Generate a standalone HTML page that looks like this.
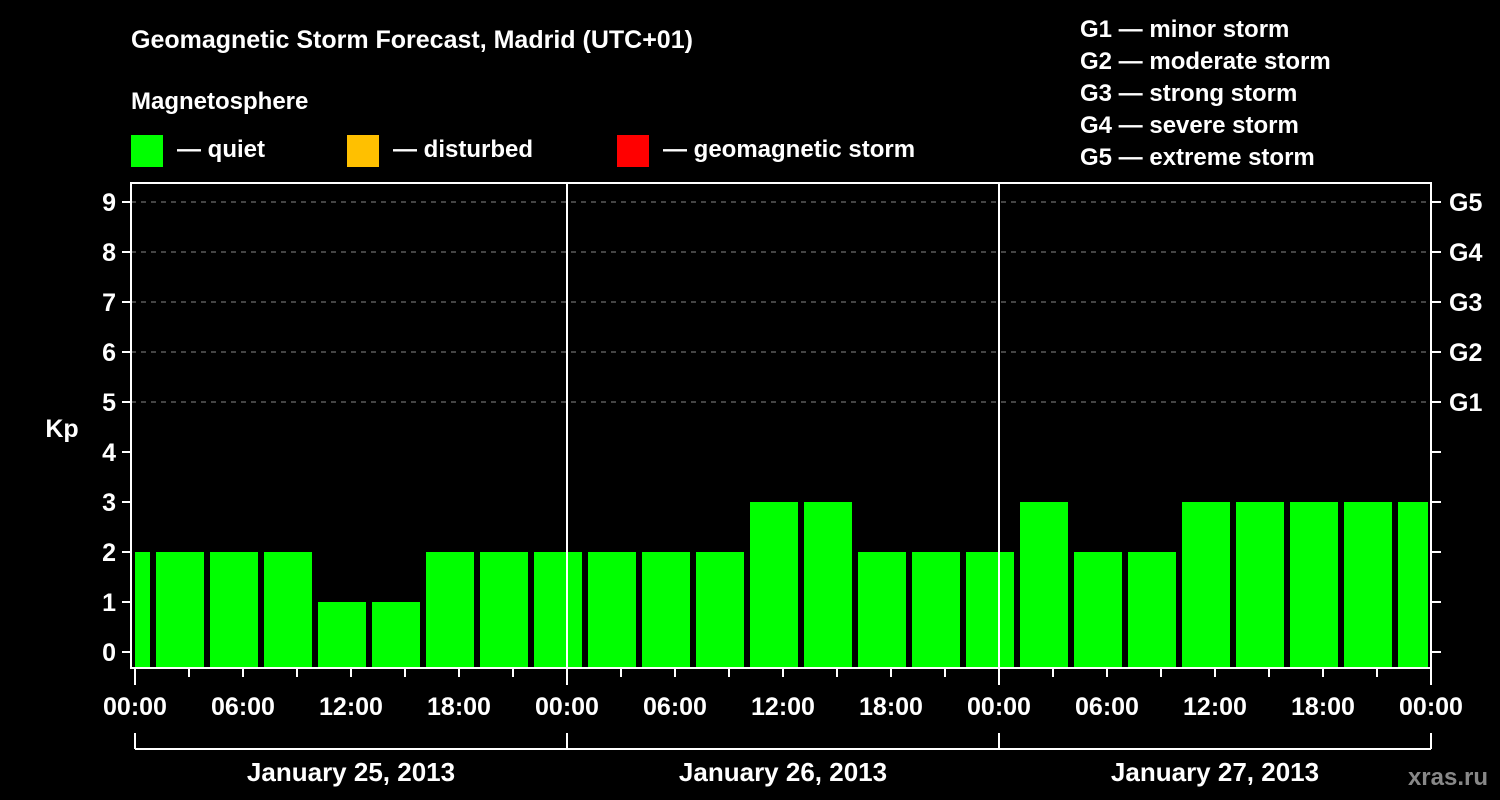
<!DOCTYPE html>
<html><head><meta charset="utf-8"><style>
html,body{margin:0;padding:0;background:#000;}
svg{display:block;font-family:"Liberation Sans",Arial,sans-serif;font-weight:bold;}
</style></head><body>
<svg id="chart" width="1500" height="800" viewBox="0 0 1500 800">
<rect x="0" y="0" width="1500" height="800" fill="#000"/>
<text x="131" y="48" fill="#fff" font-size="25">Geomagnetic Storm Forecast, Madrid (UTC+01)</text>
<text x="131" y="109" fill="#fff" font-size="24">Magnetosphere</text>
<g><rect x="131" y="135" width="32" height="32" fill="#00ff00"/><text x="177" y="157" fill="#fff" font-size="24">— quiet</text></g>
<g><rect x="347" y="135" width="32" height="32" fill="#ffc000"/><text x="393" y="157" fill="#fff" font-size="24">— disturbed</text></g>
<g><rect x="617" y="135" width="32" height="32" fill="#ff0000"/><text x="663" y="157" fill="#fff" font-size="24">— geomagnetic storm</text></g>
<g fill="#fff" font-size="24">
<text x="1080" y="37">G1 — minor storm</text>
<text x="1080" y="69">G2 — moderate storm</text>
<text x="1080" y="101">G3 — strong storm</text>
<text x="1080" y="133">G4 — severe storm</text>
<text x="1080" y="165">G5 — extreme storm</text>
</g>
<text x="62" y="437" fill="#fff" font-size="25" text-anchor="middle">Kp</text>
<text x="1488" y="785" fill="#888" font-size="24" text-anchor="end">xras.ru</text>
<g id="plot"></g>
</svg>
<script>
const kpValues = [2, 2,2,2,1,1,2,2,2, 2,2,2,3,3,2,2,2, 3,2,2,3,3,3,3,3];
const barStartHours = [-2, 1,4,7,10,13,16,19,22, 25,28,31,34,37,40,43,46, 49,52,55,58,61,64,67,70];
const kpTicks = [0,1,2,3,4,5,6,7,8,9];
const gLabels = ["G1","G2","G3","G4","G5"];
const gLevels = [5,6,7,8,9];
const timeLabels = ["00:00","06:00","12:00","18:00","00:00","06:00","12:00","18:00","00:00","06:00","12:00","18:00","00:00"];
const dayLabels = ["January 25, 2013","January 26, 2013","January 27, 2013"];

const NS="http://www.w3.org/2000/svg";
const plot=document.getElementById('plot');
const X0=135, PXH=18, Y0=652, PXK=50, L=131, R=1431, T=183, B=668;
const xs=h=>X0+h*PXH, ys=k=>Y0-k*PXK;
function mk(tag,attrs){const e=document.createElementNS(NS,tag);for(const k in attrs)e.setAttribute(k,attrs[k]);plot.appendChild(e);return e;}

kpTicks.forEach(k=>{
  if(k>=5){const g=mk('line',{x1:L,x2:R,y1:ys(k),y2:ys(k),stroke:'#888','stroke-width':1,'stroke-dasharray':'5,5'});
  
  }
});
kpValues.forEach((v,i)=>{
  let a=Math.max(xs(barStartHours[i])+3,X0), b=Math.min(xs(barStartHours[i]+3)-3,R-3);
  const r=mk('rect',{x:a,y:ys(v),width:b-a,height:B-ys(v),fill:v>=5?'#ff0000':(v>=4?'#ffc000':'#00ff00')});
  
  
});
const frame=mk('rect',{x:L,y:T,width:R-L,height:B-T,fill:'none',stroke:'#fff','stroke-width':2});


[1,2].forEach(d=>{const l=mk('line',{x1:xs(24*d),x2:xs(24*d),y1:T,y2:B,stroke:'#fff','stroke-width':2});
  
  });
kpTicks.forEach(k=>{
  mk('line',{x1:L-9,x2:L,y1:ys(k),y2:ys(k),stroke:'#fff','stroke-width':2});
  mk('line',{x1:R,x2:R+10,y1:ys(k),y2:ys(k),stroke:'#fff','stroke-width':2});
  const t=mk('text',{x:116,y:ys(k)+9,fill:'#fff','font-size':25,'text-anchor':'end'});t.textContent=k;
  
  
});
gLabels.forEach((g,i)=>{const t=mk('text',{x:1449,y:ys(gLevels[i])+9,fill:'#fff','font-size':25});t.textContent=g;
  
  });
for(let h=0;h<=72;h+=3){mk('line',{x1:xs(h),x2:xs(h),y1:B,y2:B+(h%24==0?17:9),stroke:'#fff','stroke-width':2});}
timeLabels.forEach((s,i)=>{const t=mk('text',{x:xs(i*6),y:715,fill:'#fff','font-size':25,'text-anchor':'middle'});t.textContent=s;
  
  });
mk('line',{x1:X0,x2:R,y1:749,y2:749,stroke:'#fff','stroke-width':2});
for(let d=0;d<=3;d++)mk('line',{x1:xs(24*d),x2:xs(24*d),y1:733,y2:749,stroke:'#fff','stroke-width':2});
dayLabels.forEach((s,i)=>{const t=mk('text',{x:xs(24*i+12),y:781,fill:'#fff','font-size':26,'text-anchor':'middle'});t.textContent=s;
  
  });
</script>
</body></html>
